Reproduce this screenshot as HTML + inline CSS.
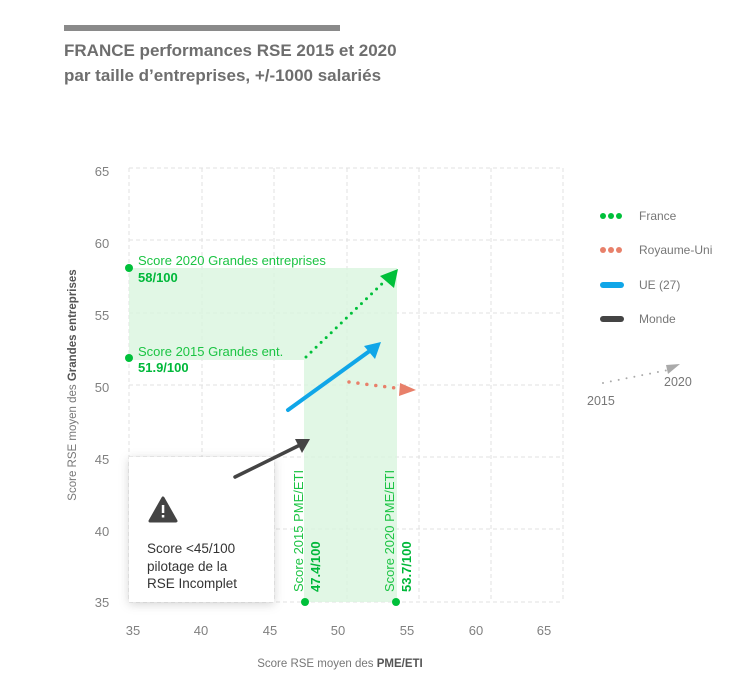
<!DOCTYPE html>
<html><head><meta charset="utf-8"><style>
body{margin:0;background:#fff;width:742px;height:692px;overflow:hidden;font-family:"Liberation Sans",sans-serif}
</style></head><body>
<svg width="742" height="692" viewBox="0 0 742 692" xmlns="http://www.w3.org/2000/svg" font-family="Liberation Sans, sans-serif">
<defs><filter id="sh" x="-20%" y="-20%" width="140%" height="140%"><feDropShadow dx="0" dy="2" stdDeviation="5" flood-color="#000" flood-opacity="0.18"/></filter></defs>
<rect x="64" y="25" width="276" height="6" fill="#8a8a8a"/>
<text x="64" y="56" font-size="17" font-weight="bold" fill="#6e6e6e">FRANCE performances RSE 2015 et 2020</text>
<text x="64" y="81" font-size="17" font-weight="bold" fill="#6e6e6e">par taille d’entreprises, +/-1000 salariés</text>
<g stroke="#e0e0e0" stroke-dasharray="4,3" stroke-width="1">
<line x1="129" y1="168" x2="129" y2="602"/><line x1="202" y1="168" x2="202" y2="602"/><line x1="274" y1="168" x2="274" y2="602"/><line x1="347" y1="168" x2="347" y2="602"/><line x1="419" y1="168" x2="419" y2="602"/><line x1="491" y1="168" x2="491" y2="602"/><line x1="563" y1="168" x2="563" y2="602"/>
<line x1="129" y1="168" x2="563" y2="168"/><line x1="129" y1="240" x2="563" y2="240"/><line x1="129" y1="313" x2="563" y2="313"/><line x1="129" y1="385" x2="563" y2="385"/><line x1="129" y1="457" x2="563" y2="457"/><line x1="129" y1="529" x2="563" y2="529"/><line x1="129" y1="602" x2="563" y2="602"/>
</g>
<path d="M129 268H397V602H304V360H129Z" fill="#d9f5df" opacity="0.8"/>
<g fill="#808080" font-size="13" text-anchor="middle">
<text x="102" y="176">65</text><text x="102" y="248">60</text><text x="102" y="320">55</text><text x="102" y="392">50</text><text x="102" y="464">45</text><text x="102" y="536">40</text><text x="102" y="607">35</text>
<text x="133" y="635">35</text><text x="201" y="635">40</text><text x="270" y="635">45</text><text x="338" y="635">50</text><text x="407" y="635">55</text><text x="476" y="635">60</text><text x="544" y="635">65</text>
</g>
<text transform="translate(76,385) rotate(-90)" text-anchor="middle" font-size="11.5" fill="#777">Score RSE moyen des <tspan font-weight="bold" fill="#555">Grandes entreprises</tspan></text>
<text x="340" y="667" text-anchor="middle" font-size="11.5" fill="#777">Score RSE moyen des <tspan font-weight="bold" fill="#555">PME/ETI</tspan></text>
<rect x="129" y="457" width="145" height="145" fill="#fff" filter="url(#sh)"/>
<path d="M163 498L176 521H150Z" fill="#444" stroke="#444" stroke-width="3" stroke-linejoin="round"/>
<rect x="161.8" y="505" width="2.5" height="8" fill="#fff"/><rect x="161.8" y="515" width="2.5" height="2.5" fill="#fff"/>
<g font-size="13.5" fill="#333"><text x="147" y="553">Score &lt;45/100</text><text x="147" y="571">pilotage de la</text><text x="147" y="588">RSE Incomplet</text></g>
<g fill="#00c03a"><circle cx="129" cy="268" r="4"/><circle cx="129" cy="358" r="4"/><circle cx="305" cy="602" r="4"/><circle cx="396" cy="602" r="4"/></g>
<text x="138" y="265" font-size="13" fill="#1cc444">Score 2020 Grandes entreprises</text>
<text x="138" y="282" font-size="13" font-weight="bold" fill="#00b83a">58/100</text>
<text x="138" y="356" font-size="13" fill="#1cc444">Score 2015 Grandes ent.</text>
<text x="138" y="372" font-size="13" font-weight="bold" fill="#00b83a">51.9/100</text>
<text transform="translate(303,592) rotate(-90)" font-size="13" fill="#1cc444">Score 2015 PME/ETI</text>
<text transform="translate(320,592) rotate(-90)" font-size="13" font-weight="bold" fill="#00b83a">47.4/100</text>
<text transform="translate(394,592) rotate(-90)" font-size="13" fill="#1cc444">Score 2020 PME/ETI</text>
<text transform="translate(411,592) rotate(-90)" font-size="13" font-weight="bold" fill="#00b83a">53.7/100</text>
<line x1="306" y1="357" x2="388" y2="278" stroke="#00c03a" stroke-width="3" stroke-dasharray="0,7" stroke-linecap="round"/>
<path d="M398 269L394 288L380 276Z" fill="#00c03a"/>
<line x1="349" y1="382" x2="403" y2="389" stroke="#e8806a" stroke-width="3.5" stroke-dasharray="0,9" stroke-linecap="round"/>
<path d="M416 390L399 396L400 383Z" fill="#e8806a"/>
<line x1="288" y1="410" x2="371" y2="350" stroke="#10a6e8" stroke-width="4" stroke-linecap="round"/>
<path d="M381 342L375 359L364 346Z" fill="#10a6e8"/>
<line x1="235" y1="477" x2="300" y2="445" stroke="#444" stroke-width="3.5" stroke-linecap="round"/>
<path d="M310 439L302 453L295 439Z" fill="#444"/>
<g font-size="12" fill="#777">
<g fill="#00c03a"><circle cx="603" cy="216" r="3"/><circle cx="611" cy="216" r="3"/><circle cx="619" cy="216" r="3"/></g><text x="639" y="220">France</text>
<g fill="#e8806a"><circle cx="603" cy="250" r="3"/><circle cx="611" cy="250" r="3"/><circle cx="619" cy="250" r="3"/></g><text x="639" y="254">Royaume-Uni</text>
<line x1="603" y1="285" x2="621" y2="285" stroke="#10a6e8" stroke-width="6" stroke-linecap="round"/><text x="639" y="289">UE (27)</text>
<line x1="603" y1="319" x2="621" y2="319" stroke="#444" stroke-width="6" stroke-linecap="round"/><text x="639" y="323">Monde</text>
<line x1="603" y1="383" x2="668" y2="370" stroke="#aaa" stroke-width="2" stroke-dasharray="0,8" stroke-linecap="round"/>
<path d="M680 364L668 374L666 365Z" fill="#aaa"/>
<text x="664" y="386" font-size="12.5">2020</text><text x="587" y="405" font-size="12.5">2015</text>
</g>
</svg>
</body></html>
